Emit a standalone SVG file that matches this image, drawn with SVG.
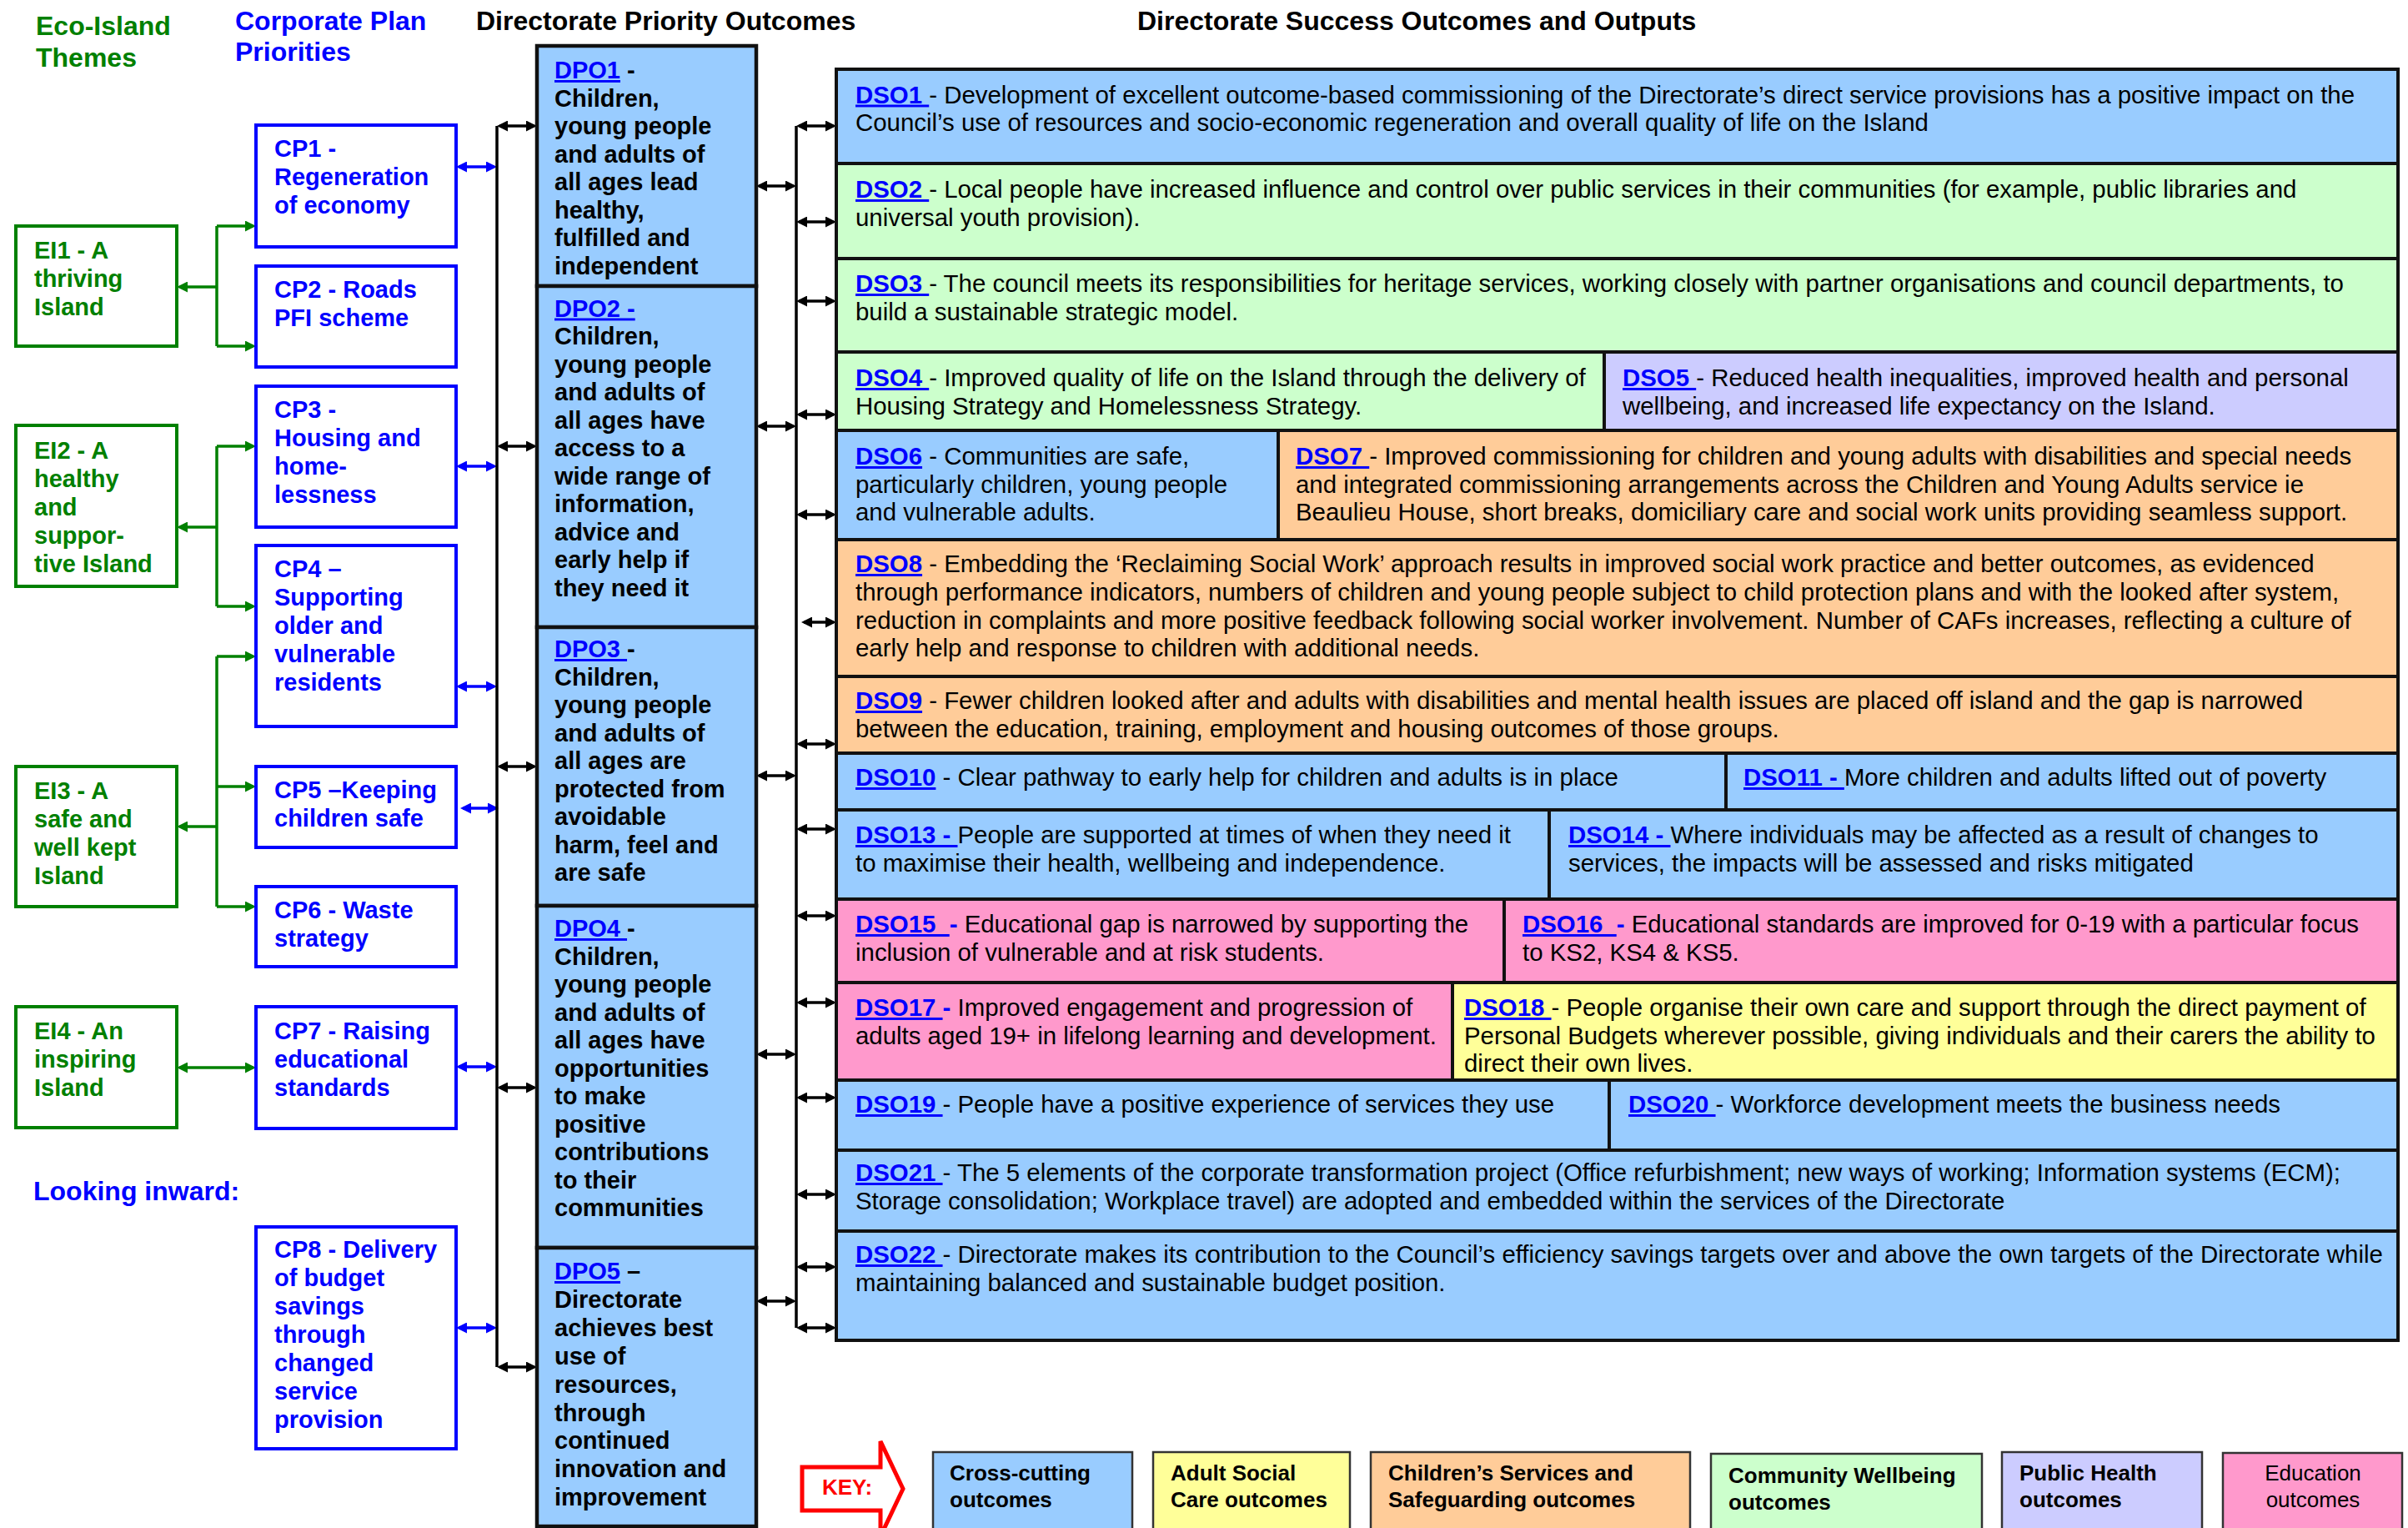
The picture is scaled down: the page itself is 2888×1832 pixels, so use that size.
<svg xmlns="http://www.w3.org/2000/svg" width="2888" height="1832" viewBox="0 0 2888 1832">
<style>
text{font-family:"Liberation Sans",Arial,sans-serif;fill:#000}
.h{font-size:32px;font-weight:bold}
.t{font-size:29px}
.d{font-size:29.4px}
.bd{font-weight:bold}
.gr{fill:#008000}
.bu{fill:#0000ff}
.lk{fill:#0000ff;font-weight:bold;text-decoration:underline}
.ei{fill:#fff;stroke:#008000;stroke-width:4}
.cp{fill:#fff;stroke:#0000ff;stroke-width:4}
.dpo{fill:#99ccff;stroke:#111;stroke-width:4.5}
.c{stroke:#111;stroke-width:4}
.cb{fill:#99ccff}.cg{fill:#ccffcc}.cl{fill:#ccccff}.co{fill:#ffcc99}.ck{fill:#ff99cc}.cy{fill:#ffff99}
.k{stroke:#333;stroke-width:2.5}
.kt{font-size:26px;font-weight:bold}
.ak{stroke:#000;stroke-width:3.5;fill:none}
.ag{stroke:#008000;stroke-width:3.5;fill:none}
.ab{stroke:#0000ff;stroke-width:3.5;fill:none}
</style>
<defs>
<marker id="mk" viewBox="0 0 13 13" refX="10" refY="6.5" markerWidth="13" markerHeight="13" markerUnits="userSpaceOnUse" orient="auto-start-reverse"><path d="M0,0L13,6.5L0,13z" fill="#000"/></marker>
<marker id="mg" viewBox="0 0 13 13" refX="10" refY="6.5" markerWidth="13" markerHeight="13" markerUnits="userSpaceOnUse" orient="auto-start-reverse"><path d="M0,0L13,6.5L0,13z" fill="#008000"/></marker>
<marker id="mb" viewBox="0 0 13 13" refX="10" refY="6.5" markerWidth="13" markerHeight="13" markerUnits="userSpaceOnUse" orient="auto-start-reverse"><path d="M0,0L13,6.5L0,13z" fill="#0000ff"/></marker>
</defs>
<rect width="2888" height="1832" fill="#fff"/>

<g id="headers">
<text class="h gr" x="43" y="42">Eco-Island<tspan x="43" y="80">Themes</tspan></text>
<text class="h bu" x="282" y="36">Corporate Plan<tspan x="282" y="73">Priorities</tspan></text>
<text class="h" x="571" y="36">Directorate Priority Outcomes</text>
<text class="h" x="1364" y="36">Directorate Success Outcomes and Outputs</text>
<text class="h bu" x="40" y="1439">Looking inward:</text>
</g>

<g id="connectors">
<path class="ag" d="M260,271V415M260,535V727M260,787V1087"/>
<g class="ag" marker-end="url(#mg)">
<line x1="260" y1="344" x2="215" y2="344"/>
<line x1="260" y1="632" x2="215" y2="632"/>
<line x1="260" y1="991" x2="215" y2="991"/>
<line x1="260" y1="271" x2="304" y2="271"/>
<line x1="260" y1="415" x2="304" y2="415"/>
<line x1="260" y1="535" x2="304" y2="535"/>
<line x1="260" y1="727" x2="304" y2="727"/>
<line x1="260" y1="787" x2="304" y2="787"/>
<line x1="260" y1="943" x2="304" y2="943"/>
<line x1="260" y1="1087" x2="304" y2="1087"/>
<line x1="215" y1="1280" x2="304" y2="1280" marker-start="url(#mg)"/>
</g>
<g class="ab" marker-start="url(#mb)" marker-end="url(#mb)">
<line x1="550" y1="200" x2="593" y2="200"/>
<line x1="550" y1="559" x2="593" y2="559"/>
<line x1="550" y1="823" x2="593" y2="823"/>
<line x1="555" y1="969" x2="595" y2="969"/>
<line x1="550" y1="1279" x2="593" y2="1279"/>
<line x1="550" y1="1592" x2="593" y2="1592"/>
</g>
<path class="ak" d="M596,151V1639M955,151V1592"/>
<g class="ak" marker-start="url(#mk)" marker-end="url(#mk)">
<line x1="599" y1="151" x2="641" y2="151"/>
<line x1="599" y1="535" x2="641" y2="535"/>
<line x1="599" y1="919" x2="641" y2="919"/>
<line x1="599" y1="1304" x2="641" y2="1304"/>
<line x1="599" y1="1639" x2="641" y2="1639"/>
<line x1="910" y1="223" x2="952" y2="223"/>
<line x1="910" y1="511" x2="952" y2="511"/>
<line x1="910" y1="930" x2="952" y2="930"/>
<line x1="910" y1="1264" x2="952" y2="1264"/>
<line x1="910" y1="1560" x2="952" y2="1560"/>
<line x1="958" y1="151" x2="1000" y2="151"/>
<line x1="958" y1="266" x2="1000" y2="266"/>
<line x1="958" y1="361" x2="1000" y2="361"/>
<line x1="958" y1="497" x2="1000" y2="497"/>
<line x1="958" y1="617" x2="1000" y2="617"/>
<line x1="964" y1="746" x2="1000" y2="746"/>
<line x1="958" y1="892" x2="1000" y2="892"/>
<line x1="958" y1="994" x2="1000" y2="994"/>
<line x1="958" y1="1098" x2="1000" y2="1098"/>
<line x1="958" y1="1202" x2="1000" y2="1202"/>
<line x1="958" y1="1316" x2="1000" y2="1316"/>
<line x1="958" y1="1432" x2="1000" y2="1432"/>
<line x1="958" y1="1519" x2="1000" y2="1519"/>
<line x1="958" y1="1592" x2="1000" y2="1592"/>
</g>
</g>

<g id="EI1"><rect class="ei" x="19" y="271" width="193" height="144"/>
<text class="t bd gr" x="41" y="310">EI1 - A<tspan x="41" dy="34">thriving</tspan><tspan x="41" dy="34">Island</tspan></text></g>
<g id="EI2"><rect class="ei" x="19" y="510" width="193" height="193"/>
<text class="t bd gr" x="41" y="550">EI2 - A<tspan x="41" dy="34">healthy</tspan><tspan x="41" dy="34">and</tspan><tspan x="41" dy="34">suppor-</tspan><tspan x="41" dy="34">tive Island</tspan></text></g>
<g id="EI3"><rect class="ei" x="19" y="919" width="193" height="168"/>
<text class="t bd gr" x="41" y="958">EI3 - A<tspan x="41" dy="34">safe and</tspan><tspan x="41" dy="34">well kept</tspan><tspan x="41" dy="34">Island</tspan></text></g>
<g id="EI4"><rect class="ei" x="19" y="1207" width="193" height="145"/>
<text class="t bd gr" x="41" y="1246">EI4 - An<tspan x="41" dy="34">inspiring</tspan><tspan x="41" dy="34">Island</tspan></text></g>

<g id="CP1"><rect class="cp" x="307" y="150" width="240" height="146"/>
<text class="t bd bu" x="329" y="188">CP1 -<tspan x="329" dy="34">Regeneration</tspan><tspan x="329" dy="34">of economy</tspan></text></g>
<g id="CP2"><rect class="cp" x="307" y="319" width="240" height="121"/>
<text class="t bd bu" x="329" y="357">CP2 - Roads<tspan x="329" dy="34">PFI scheme</tspan></text></g>
<g id="CP3"><rect class="cp" x="307" y="463" width="240" height="169"/>
<text class="t bd bu" x="329" y="501">CP3 -<tspan x="329" dy="34">Housing and</tspan><tspan x="329" dy="34">home-</tspan><tspan x="329" dy="34">lessness</tspan></text></g>
<g id="CP4"><rect class="cp" x="307" y="654" width="240" height="217"/>
<text class="t bd bu" x="329" y="692">CP4 –<tspan x="329" dy="34">Supporting</tspan><tspan x="329" dy="34">older and</tspan><tspan x="329" dy="34">vulnerable</tspan><tspan x="329" dy="34">residents</tspan></text></g>
<g id="CP5"><rect class="cp" x="307" y="919" width="240" height="97"/>
<text class="t bd bu" x="329" y="957">CP5 –Keeping<tspan x="329" dy="34">children safe</tspan></text></g>
<g id="CP6"><rect class="cp" x="307" y="1063" width="240" height="96"/>
<text class="t bd bu" x="329" y="1101">CP6 - Waste<tspan x="329" dy="34">strategy</tspan></text></g>
<g id="CP7"><rect class="cp" x="307" y="1207" width="240" height="146"/>
<text class="t bd bu" x="329" y="1246">CP7 - Raising<tspan x="329" dy="34">educational</tspan><tspan x="329" dy="34">standards</tspan></text></g>
<g id="CP8"><rect class="cp" x="307" y="1471" width="240" height="266"/>
<text class="t bd bu" x="329" y="1508">CP8 - Delivery<tspan x="329" dy="34">of budget</tspan><tspan x="329" dy="34">savings</tspan><tspan x="329" dy="34">through</tspan><tspan x="329" dy="34">changed</tspan><tspan x="329" dy="34">service</tspan><tspan x="329" dy="34">provision</tspan></text></g>

<g id="DPO1"><rect class="dpo" x="644" y="55" width="263" height="288"/>
<text class="t bd" x="665" y="94"><tspan class="lk">DPO1</tspan> -<tspan x="665" dy="33.5">Children,</tspan><tspan x="665" dy="33.5">young people</tspan><tspan x="665" dy="33.5">and adults of</tspan><tspan x="665" dy="33.5">all ages lead</tspan><tspan x="665" dy="33.5">healthy,</tspan><tspan x="665" dy="33.5">fulfilled and</tspan><tspan x="665" dy="33.5">independent</tspan></text></g>
<g id="DPO2"><rect class="dpo" x="644" y="343" width="263" height="409"/>
<text class="t bd" x="665" y="379.5"><tspan class="lk">DPO2 -</tspan><tspan x="665" dy="33.5">Children,</tspan><tspan x="665" dy="33.5">young people</tspan><tspan x="665" dy="33.5">and adults of</tspan><tspan x="665" dy="33.5">all ages have</tspan><tspan x="665" dy="33.5">access to a</tspan><tspan x="665" dy="33.5">wide range of</tspan><tspan x="665" dy="33.5">information,</tspan><tspan x="665" dy="33.5">advice and</tspan><tspan x="665" dy="33.5">early help if</tspan><tspan x="665" dy="33.5">they need it</tspan></text></g>
<g id="DPO3"><rect class="dpo" x="644" y="752" width="263" height="334"/>
<text class="t bd" x="665" y="788"><tspan class="lk">DPO3 </tspan>-<tspan x="665" dy="33.5">Children,</tspan><tspan x="665" dy="33.5">young people</tspan><tspan x="665" dy="33.5">and adults of</tspan><tspan x="665" dy="33.5">all ages are</tspan><tspan x="665" dy="33.5">protected from</tspan><tspan x="665" dy="33.5">avoidable</tspan><tspan x="665" dy="33.5">harm, feel and</tspan><tspan x="665" dy="33.5">are safe</tspan></text></g>
<g id="DPO4"><rect class="dpo" x="644" y="1086" width="263" height="410"/>
<text class="t bd" x="665" y="1123"><tspan class="lk">DPO4 </tspan>-<tspan x="665" dy="33.5">Children,</tspan><tspan x="665" dy="33.5">young people</tspan><tspan x="665" dy="33.5">and adults of</tspan><tspan x="665" dy="33.5">all ages have</tspan><tspan x="665" dy="33.5">opportunities</tspan><tspan x="665" dy="33.5">to make</tspan><tspan x="665" dy="33.5">positive</tspan><tspan x="665" dy="33.5">contributions</tspan><tspan x="665" dy="33.5">to their</tspan><tspan x="665" dy="33.5">communities</tspan></text></g>
<g id="DPO5"><rect class="dpo" x="644" y="1496" width="263" height="334"/>
<text class="t bd" x="665" y="1534"><tspan class="lk">DPO5</tspan> –<tspan x="665" dy="33.9">Directorate</tspan><tspan x="665" dy="33.9">achieves best</tspan><tspan x="665" dy="33.9">use of</tspan><tspan x="665" dy="33.9">resources,</tspan><tspan x="665" dy="33.9">through</tspan><tspan x="665" dy="33.9">continued</tspan><tspan x="665" dy="33.9">innovation and</tspan><tspan x="665" dy="33.9">improvement</tspan></text></g>

<g id="DSO1"><rect class="c cb" x="1003" y="83" width="1873" height="113"/>
<text class="d" x="1026" y="123.5"><tspan class="lk">DSO1 </tspan>- Development of excellent outcome-based commissioning of the Directorate’s direct service provisions has a positive impact on the<tspan x="1026" dy="33.6">Council’s use of resources and socio-economic regeneration and overall quality of life on the Island</tspan></text></g>
<g id="DSO2"><rect class="c cg" x="1003" y="196" width="1873" height="114"/>
<text class="d" x="1026" y="237"><tspan class="lk">DSO2 </tspan>- Local people have increased influence and control over public services in their communities (for example, public libraries and<tspan x="1026" dy="33.6">universal youth provision).</tspan></text></g>
<g id="DSO3"><rect class="c cg" x="1003" y="310" width="1873" height="112"/>
<text class="d" x="1026" y="350"><tspan class="lk">DSO3 </tspan>- The council meets its responsibilities for heritage services, working closely with partner organisations and council departments, to<tspan x="1026" dy="33.6">build a sustainable strategic model.</tspan></text></g>
<g id="DSO4"><rect class="c cg" x="1003" y="422" width="921" height="94"/>
<text class="d" x="1026" y="463"><tspan class="lk">DSO4 </tspan>- Improved quality of life on the Island through the delivery of<tspan x="1026" dy="33.6">Housing Strategy and Homelessness Strategy.</tspan></text></g>
<g id="DSO5"><rect class="c cl" x="1924" y="422" width="952" height="94"/>
<text class="d" x="1946" y="463"><tspan class="lk">DSO5 </tspan>- Reduced health inequalities, improved health and personal<tspan x="1946" dy="33.6">wellbeing, and increased life expectancy on the Island.</tspan></text></g>
<g id="DSO6"><rect class="c cb" x="1003" y="516" width="530" height="131"/>
<text class="d" x="1026" y="557"><tspan class="lk">DSO6</tspan> - Communities are safe,<tspan x="1026" dy="33.6">particularly children, young people</tspan><tspan x="1026" dy="33.6">and vulnerable adults.</tspan></text></g>
<g id="DSO7"><rect class="c co" x="1533" y="516" width="1343" height="131"/>
<text class="d" x="1554" y="557"><tspan class="lk">DSO7 </tspan>- Improved commissioning for children and young adults with disabilities and special needs<tspan x="1554" dy="33.6">and integrated commissioning arrangements across the Children and Young Adults service ie</tspan><tspan x="1554" dy="33.6">Beaulieu House, short breaks, domiciliary care and social work units providing seamless support.</tspan></text></g>
<g id="DSO8"><rect class="c co" x="1003" y="647" width="1873" height="164"/>
<text class="d" x="1026" y="686"><tspan class="lk">DSO8</tspan> - Embedding the ‘Reclaiming Social Work’ approach results in improved social work practice and better outcomes, as evidenced<tspan x="1026" dy="33.8">through performance indicators, numbers of children and young people subject to child protection plans and with the looked after system,</tspan><tspan x="1026" dy="33.8">reduction in complaints and more positive feedback following social worker involvement. Number of CAFs increases, reflecting a culture of</tspan><tspan x="1026" dy="33.8">early help and response to children with additional needs.</tspan></text></g>
<g id="DSO9"><rect class="c co" x="1003" y="811" width="1873" height="92"/>
<text class="d" x="1026" y="850"><tspan class="lk">DSO9</tspan> - Fewer children looked after and adults with disabilities and mental health issues are placed off island and the gap is narrowed<tspan x="1026" dy="33.6">between the education, training, employment and housing outcomes of those groups.</tspan></text></g>
<g id="DSO10"><rect class="c cb" x="1003" y="903" width="1067" height="68"/>
<text class="d" x="1026" y="942"><tspan class="lk">DSO10</tspan> - Clear pathway to early help for children and adults is in place</text></g>
<g id="DSO11"><rect class="c cb" x="2070" y="903" width="806" height="68"/>
<text class="d" x="2091" y="942"><tspan class="lk">DSO11 - </tspan>More children and adults lifted out of poverty</text></g>
<g id="DSO13"><rect class="c cb" x="1003" y="971" width="855" height="107"/>
<text class="d" x="1026" y="1011"><tspan class="lk">DSO13 - </tspan>People are supported at times of when they need it<tspan x="1026" dy="33.6">to maximise their health, wellbeing and independence.</tspan></text></g>
<g id="DSO14"><rect class="c cb" x="1858" y="971" width="1018" height="107"/>
<text class="d" x="1881" y="1011"><tspan class="lk">DSO14 - </tspan>Where individuals may be affected as a result of changes to<tspan x="1881" dy="33.6">services, the impacts will be assessed and risks mitigated</tspan></text></g>
<g id="DSO15"><rect class="c ck" x="1003" y="1078" width="801" height="100"/>
<text class="d" x="1026" y="1118"><tspan class="lk">DSO15&#160; </tspan><tspan class="bu bd">- </tspan>Educational gap is narrowed by supporting the<tspan x="1026" dy="33.6">inclusion of vulnerable and at risk students.</tspan></text></g>
<g id="DSO16"><rect class="c ck" x="1804" y="1078" width="1072" height="100"/>
<text class="d" x="1826" y="1118"><tspan class="lk">DSO16&#160; </tspan><tspan class="bu bd">- </tspan>Educational standards are improved for 0-19 with a particular focus<tspan x="1826" dy="33.6">to KS2, KS4 &amp; KS5.</tspan></text></g>
<g id="DSO17"><rect class="c ck" x="1003" y="1178" width="739" height="117"/>
<text class="d" x="1026" y="1218"><tspan class="lk">DSO17 </tspan><tspan class="bu bd">- </tspan>Improved engagement and progression of<tspan x="1026" dy="33.6">adults aged 19+ in lifelong learning and development.</tspan></text></g>
<g id="DSO18"><rect class="c cy" x="1742" y="1178" width="1134" height="117"/>
<text class="d" x="1756" y="1218"><tspan class="lk">DSO18 </tspan>- People organise their own care and support through the direct payment of<tspan x="1756" dy="33.6">Personal Budgets wherever possible, giving individuals and their carers the ability to</tspan><tspan x="1756" dy="33.6">direct their own lives.</tspan></text></g>
<g id="DSO19"><rect class="c cb" x="1003" y="1295" width="927" height="84"/>
<text class="d" x="1026" y="1334"><tspan class="lk">DSO19 </tspan>- People have a positive experience of services they use</text></g>
<g id="DSO20"><rect class="c cb" x="1930" y="1295" width="946" height="84"/>
<text class="d" x="1953" y="1334"><tspan class="lk">DSO20 </tspan>- Workforce development meets the business needs</text></g>
<g id="DSO21"><rect class="c cb" x="1003" y="1379" width="1873" height="97"/>
<text class="d" x="1026" y="1416"><tspan class="lk">DSO21 </tspan>- The 5 elements of the corporate transformation project (Office refurbishment; new ways of working; Information systems (ECM);<tspan x="1026" dy="33.6">Storage consolidation; Workplace travel) are adopted and embedded within the services of the Directorate</tspan></text></g>
<g id="DSO22"><rect class="c cb" x="1003" y="1476" width="1873" height="131"/>
<text class="d" x="1026" y="1514"><tspan class="lk">DSO22 </tspan>- Directorate makes its contribution to the Council’s efficiency savings targets over and above the own targets of the Directorate while<tspan x="1026" dy="33.6">maintaining balanced and sustainable budget position.</tspan></text></g>

<g id="key">
<polygon points="962,1759 1056,1759 1056,1728 1083,1785 1056,1842 1056,1811 962,1811" fill="#fff" stroke="#ff0000" stroke-width="5"/>
<text x="986" y="1792" font-size="26" font-weight="bold" style="fill:#ff0000">KEY:</text>
<g id="key-cross"><rect class="k cb" x="1119" y="1741" width="239" height="110"/><text class="kt" x="1139" y="1775">Cross-cutting<tspan x="1139" dy="32">outcomes</tspan></text></g>
<g id="key-adult"><rect class="k cy" x="1383" y="1741" width="236" height="110"/><text class="kt" x="1404" y="1775">Adult Social<tspan x="1404" dy="32">Care outcomes</tspan></text></g>
<g id="key-children"><rect class="k co" x="1644" y="1741" width="383" height="110"/><text class="kt" x="1665" y="1775">Children’s Services and<tspan x="1665" dy="32">Safeguarding outcomes</tspan></text></g>
<g id="key-community"><rect class="k cg" x="2052" y="1743" width="325" height="110"/><text class="kt" x="2073" y="1778">Community Wellbeing<tspan x="2073" dy="32">outcomes</tspan></text></g>
<g id="key-health"><rect class="k cl" x="2401" y="1741" width="240" height="110"/><text class="kt" x="2422" y="1775">Public Health<tspan x="2422" dy="32">outcomes</tspan></text></g>
<g id="key-education"><rect class="k ck" x="2666" y="1742" width="215" height="110"/><text x="2774" y="1775" font-size="26" text-anchor="middle">Education<tspan x="2774" dy="32">outcomes</tspan></text></g>
</g>
</svg>
